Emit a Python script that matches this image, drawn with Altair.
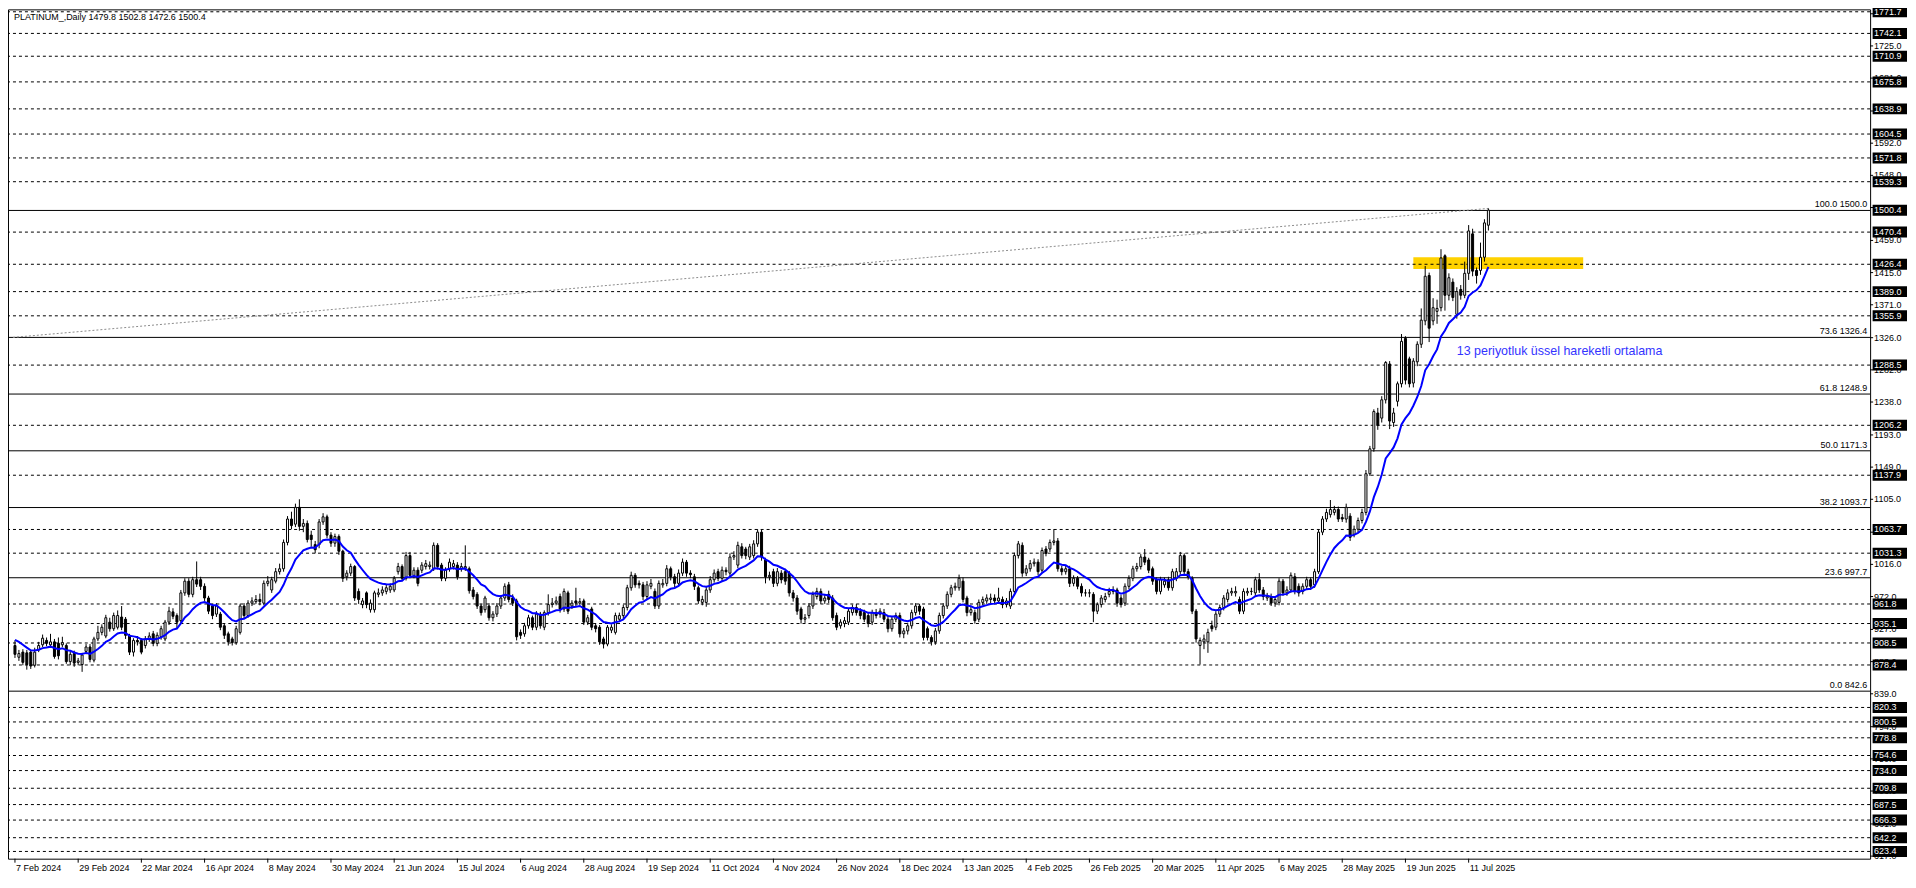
import altair as alt
import pandas as pd

title_text = "PLATINUM_,Daily  1479.8 1502.8 1472.6 1500.4"
ema_label = "13 periyotluk üssel hareketli ortalama"

opens = [
905,889,896,895,896,878,899,906,912,906, 910,908,906,905,883,894,882,879,897,903,
885,914,923,918,937,928,930,944,941,919, 896,912,912,905,914,921,908,917,914,937,
951,946,939,977,993,975,995,995,986,970, 959,948,948,932,921,914,909,923,959,946,
963,965,968,963,990,981,993,1006,1010,1046, 1078,1071,1094,1068,1072,1056,1043,1043,1074,1081,
1056,1045,1054,1034,999,1004,1013,979,961,977, 954,954,975,977,979,981,981,1006,1013,997,
1028,1001,1008,1008,1013,1013,1010,1042,1015,997, 1010,1013,1015,1010,1011,1010,981,975,959,954,
959,943,948,959,970,988,970,966,923,921, 932,943,930,948,930,950,961,963,972,955,
977,959,966,963,966,937,955,932,930,914, 907,926,923,941,946,957,984,1001,990,988,
972,986,979,959,988,990,1010,999,990,1004, 1019,1004,999,984,964,964,981,995,1006,997,
1008,1004,1026,1015,1040,1037,1026,1028,1044,1060, 1022,999,1006,990,1004,1006,1004,977,970,955,
941,946,959,972,979,966,975,970,946,932, 935,937,950,957,952,950,946,937,950,948,
950,941,928,941,946,921,925,932,950,959, 955,928,916,910,925,946,959,975,984,984,
993,970,950,950,941,964,966,968,970,966, 968,961,959,979,1028,1042,1004,1010,1017,1019,
1008,1037,1037,1046,1048,1010,1006,1010,990,997, 986,977,977,975,952,961,968,975,979,981,
970,963,986,997,1010,1013,1026,1022,1010,995, 979,988,995,984,997,1006,1028,1006,997,952,
905,910,910,932,930,948,957,968,977,977, 968,952,977,979,977,995,981,970,972,963,
964,993,977,981,999,986,979,986,995,988, 1006,1060,1078,1084,1087,1091,1080,1078,1082,1057,
1064,1076,1087,1140,1174,1223,1216,1241,1290,1210, 1239,1263,1325,1297,1264,1293,1317,1349,1411,1349,
1362,1367,1438,1384,1402,1358,1392,1384,1414,1468, 1418,1418,1436,1479.8,
]
closes = [
893,894,882,879,877,896,905,915,908,910, 890,891,909,883,893,881,884,892,903,886,
914,923,930,943,928,946,946,930,919,896, 912,910,896,914,918,908,919,928,937,952,
945,937,977,993,975,995,989,986,970,952, 946,959,930,919,910,909,928,959,946,963,
966,968,965,990,993,995,1006,1010,1046,1078, 1069,1094,1068,1072,1050,1050,1036,1074,1081,1056,
1045,1054,1034,997,1004,1013,970,968,966,961, 963,977,977,981,984,986,997,1013,997,1028,
1001,1008,990,1015,1017,1015,1042,1013,997,1008, 1019,1017,999,1013,1013,980,972,959,950,970,
943,948,959,970,986,968,963,917,919,932, 943,930,948,932,950,961,963,966,955,979,
952,963,963,965,937,943,930,928,910,907, 930,930,946,946,957,984,1001,988,988,972,
988,990,959,990,990,1010,999,990,1004,1019, 1004,1002,986,966,968,981,995,1004,997,1008,
1006,1026,1028,1042,1028,1028,1040,1044,1060,1026, 999,1001,990,1006,995,993,977,970,952,941,
943,959,975,979,966,970,968,943,930,937, 939,952,957,950,946,941,935,950,946,952,
941,928,941,946,921,925,932,950,959,952, 916,916,910,925,946,959,975,984,986,997,
968,950,954,939,964,968,970,970,966,970, 961,966,979,1028,1044,1004,1010,1017,1019,1006,
1035,1031,1046,1048,1010,1006,1010,990,997,986, 977,977,977,952,961,970,972,979,981,963,
961,986,997,1010,1013,1026,1019,1008,993,979, 995,993,984,1006,1006,1028,1006,999,952,914,
912,914,923,928,948,957,970,977,979,979, 952,979,979,979,995,981,972,972,963,968,
993,977,981,1001,979,977,986,995,986,1006, 1060,1078,1087,1091,1091,1078,1078,1094,1053,1064,
1076,1087,1140,1174,1225,1206,1241,1292,1212,1223, 1263,1321,1268,1263,1294,1317,1350,1410,1339,1367,
1366,1435,1384,1408,1381,1389,1384,1414,1472,1417, 1411,1436,1483,1500.4,
]
highs = [
912,899,900,899,899,902,910,920,916,921, 914,916,917,908,897,898,888,895,907,907,
917,932,934,947,943,950,953,959,944,921, 915,918,915,918,923,925,923,932,940,958,
956,949,981,997,997,999,1020,999,990,973, 962,963,951,935,924,917,932,962,963,967,
971,974,976,994,1000,999,1011,1017,1050,1082, 1088,1099,1105,1078,1076,1062,1048,1078,1086,1084,
1060,1058,1057,1036,1008,1017,1015,983,970,979, 968,980,983,986,988,990,1000,1018,1016,1033,
1033,1012,1012,1019,1022,1020,1046,1045,1018,1012, 1024,1022,1019,1018,1042,1013,985,978,962,973,
963,952,963,974,990,992,975,969,927,936, 947,946,952,951,953,975,970,972,976,983,
980,967,984,970,969,947,958,935,933,917, 933,934,950,950,961,988,1006,1004,994,992,
993,996,983,994,996,1015,1013,1003,1009,1024, 1022,1008,1003,987,973,985,1000,1009,1010,1013,
1012,1031,1034,1047,1045,1040,1044,1049,1064,1063, 1025,1006,1010,1011,1008,1010,1007,981,974,958,
948,963,979,984,983,974,980,974,950,941, 944,956,961,962,956,954,950,954,955,956,
955,945,945,950,950,929,936,954,963,962, 958,931,919,929,950,963,979,988,991,1002,
998,973,958,954,968,972,975,976,975,984, 972,970,983,1032,1048,1046,1015,1022,1024,1023,
1039,1041,1050,1064,1052,1014,1015,1014,1001,1000, 990,982,982,978,964,974,977,984,986,984,
974,990,1001,1014,1018,1030,1037,1025,1013,998, 999,998,999,1010,1011,1033,1031,1010,1000,955,
916,920,928,939,952,961,974,982,984,986, 972,983,984,984,999,1004,985,977,976,972,
997,996,986,1005,1004,990,990,999,998,1010, 1064,1082,1092,1104,1096,1095,1085,1099,1086,1069,
1080,1092,1145,1178,1228,1230,1246,1294,1294,1230, 1266,1331,1328,1300,1298,1321,1366,1424,1415,1380,
1378,1447,1440,1414,1407,1395,1398,1430,1480,1475, 1422,1456,1488,1502.8,
]
lows = [
888,884,878,872,873,875,896,903,904,902, 887,886,903,880,878,876,878,869,893,882,
882,911,919,915,924,925,927,926,914,892, 890,905,893,901,910,904,904,913,911,933,
941,928,936,973,971,971,985,981,966,948, 941,944,926,914,905,905,906,920,942,943,
959,962,960,960,986,977,990,1002,1006,1042, 1064,1067,1062,1060,1046,1040,1031,1038,1070,1052,
1040,1040,1029,992,994,1000,966,962,956,956, 950,950,971,973,975,977,978,1002,993,994,
997,997,986,1004,1009,1009,1007,1009,993,993, 1006,1009,995,1006,1007,976,968,955,946,950,
939,938,944,955,966,964,959,912,914,917, 928,926,926,928,926,946,957,960,950,951,
948,955,959,960,933,933,926,923,906,901, 904,922,920,937,942,953,980,984,983,967,
968,982,955,955,984,986,994,985,986,1000, 999,997,981,962,960,958,977,991,993,993,
1001,1000,1022,1011,1024,1023,1022,1024,1040,1021, 990,994,985,986,990,988,972,965,947,935,
936,942,955,968,962,962,963,939,926,928, 930,933,946,946,941,937,930,933,942,943,
937,923,924,937,916,915,920,928,946,947, 912,912,905,906,921,942,955,971,980,980,
964,945,946,935,937,960,962,963,962,962, 956,957,955,975,1024,999,1000,1006,1013,1001,
1004,1027,1033,1042,1006,1001,1002,985,986,982, 972,972,971,937,948,957,964,971,975,958,
957,959,982,993,1006,1009,1015,1004,988,975, 975,984,980,980,993,1002,1002,995,948,909,
879,900,895,924,926,944,953,964,973,972, 948,948,973,974,973,977,967,966,959,958,
960,973,973,977,975,972,975,982,981,984, 1003,1056,1074,1080,1083,1074,1074,1073,1048,1053,
1060,1072,1083,1137,1170,1200,1210,1236,1201,1204, 1232,1258,1262,1258,1258,1287,1312,1343,1320,1343,
1345,1362,1363,1377,1376,1352,1378,1380,1405,1410, 1400,1412,1430,1472.6,
]

date_bars = [0, 16, 32, 48, 64, 80, 96, 112, 128, 144, 160, 176, 192, 208, 224,
             240, 256, 272, 288, 304, 320, 336, 352, 368]
date_labels = ["7 Feb 2024", "29 Feb 2024", "22 Mar 2024", "16 Apr 2024", "8 May 2024",
               "30 May 2024", "21 Jun 2024", "15 Jul 2024", "6 Aug 2024", "28 Aug 2024",
               "19 Sep 2024", "11 Oct 2024", "4 Nov 2024", "26 Nov 2024", "18 Dec 2024",
               "13 Jan 2025", "4 Feb 2025", "26 Feb 2025", "20 Mar 2025", "11 Apr 2025",
               "6 May 2025", "28 May 2025", "19 Jun 2025", "11 Jul 2025"]

dashed_levels = [1771.7, 1742.1, 1710.9, 1675.8, 1638.9, 1604.5, 1571.8, 1539.3, 1470.4,
                 1426.4, 1389.0, 1355.9, 1288.5, 1206.2, 1137.9, 1063.7, 1031.3, 961.8,
                 935.1, 908.5, 878.4, 820.3, 800.5, 778.8, 754.6, 734.0, 709.8, 687.5,
                 666.3, 642.2, 623.4]
fib_levels = [1500.0, 1326.4, 1248.9, 1171.3, 1093.7, 997.7, 842.6]
fib_pcts = ["100.0", "73.6", "61.8", "50.0", "38.2", "23.6", "0.0"]
last_price = 1500.4
axis_ticks = [1769.0, 1725.0, 1681.0, 1636.0, 1592.0, 1548.0, 1504.0, 1459.0, 1415.0,
              1371.0, 1326.0, 1282.0, 1238.0, 1193.0, 1149.0, 1105.0, 1060.0, 1016.0,
              972.0, 927.0, 883.0, 839.0, 794.0, 750.0, 706.0, 661.0, 617.0]
zone_bars = [354, 397]
zone_prices = [1420.0, 1436.0]
trend_bars = [-0.5, 373]
trend_prices = [1326.4, 1502.8]
ema_period = 13
ema_start = 916.0
label_bar = 365
label_price = 1308.0

n = len(closes)
assert len(opens) == n and len(highs) == n and len(lows) == n, (len(opens), len(highs), len(lows), n)

ema = []
prev = ema_start
alpha = 2.0 / (ema_period + 1)
for c in closes:
    prev = prev + alpha * (c - prev)
    ema.append(prev)

candles = pd.DataFrame({
    "i": list(range(n)), "o": opens, "c": closes,
    "h": [max(h, o, c) for h, o, c in zip(highs, opens, closes)],
    "l": [min(l, o, c) for l, o, c in zip(lows, opens, closes)],
    "ema": ema,
})

W, H = 1868, 852
FONT = "Liberation Sans"
xs = alt.Scale(domain=[-0.5, 468.37], nice=False, zero=False)
ys = alt.Scale(domain=[613.5, 1775.0], nice=False, zero=False)


def X(f):
    return alt.X(f"{f}:Q", scale=xs, axis=None)


def Y(f):
    return alt.Y(f"{f}:Q", scale=ys, axis=None)


zone_df = pd.DataFrame({"i0": [zone_bars[0]], "i1": [zone_bars[1]],
                        "p0": [zone_prices[0]], "p1": [zone_prices[1]]})
zone = alt.Chart(zone_df).mark_rect(color="#FFD200").encode(
    x=X("i0"), x2="i1", y=Y("p0"), y2="p1")

dash_df = pd.DataFrame({"p": dashed_levels})
dashed = alt.Chart(dash_df).mark_rule(color="black", strokeWidth=1, strokeDash=[3, 3]).encode(y=Y("p"))

fib_df = pd.DataFrame({"p": fib_levels,
                       "t": [f"{a} {b:.1f}" for a, b in zip(fib_pcts, fib_levels)]})
fib = alt.Chart(fib_df).mark_rule(color="black", strokeWidth=1).encode(y=Y("p"))
fib_txt = alt.Chart(fib_df).mark_text(align="right", baseline="bottom", dy=-1,
                                      font=FONT, fontSize=9, color="black").encode(
    x=alt.value(W - 3), y=Y("p"), text="t:N")

trend_df = pd.DataFrame({"i": trend_bars, "p": trend_prices})
trend = alt.Chart(trend_df).mark_line(color="#8c8c8c", strokeWidth=1, strokeDash=[2, 2]).encode(
    x=X("i"), y=Y("p"))

wicks = alt.Chart(candles).mark_rule(color="black", strokeWidth=1).encode(
    x=X("i"), y=Y("l"), y2="h")
bodies = alt.Chart(candles).mark_bar(size=2, stroke="black", strokeWidth=1, orient="vertical").encode(
    x=X("i"), y=Y("o"), y2="c",
    fill=alt.condition("datum.c >= datum.o", alt.value("white"), alt.value("black")))

ema_line = alt.Chart(candles).mark_line(color="#0000FF", strokeWidth=2).encode(
    x=X("i"), y=Y("ema"))

lab_df = pd.DataFrame({"i": [label_bar], "p": [label_price], "t": [ema_label]})
ema_txt = alt.Chart(lab_df).mark_text(align="left", baseline="middle", font=FONT,
                                      fontSize=12.5, color="#3333FF").encode(
    x=X("i"), y=Y("p"), text="t:N")

title_df = pd.DataFrame({"t": [title_text]})
title = alt.Chart(title_df).mark_text(align="left", baseline="middle", font=FONT,
                                      fontSize=9, color="black").encode(
    x=alt.value(6), y=alt.value(8), text="t:N")

tick_df = pd.DataFrame({"p": axis_ticks, "t": [f"{v:.1f}" for v in axis_ticks]})
ytick_marks = alt.Chart(tick_df).mark_rule(color="black").encode(
    x=alt.value(W), x2=alt.value(W + 3), y=Y("p"))
ytick_txt = alt.Chart(tick_df).mark_text(align="left", baseline="middle", font=FONT,
                                         fontSize=9, color="black").encode(
    x=alt.value(W + 4), y=Y("p"), text="t:N")

box_vals = dashed_levels + [last_price]
box_df = pd.DataFrame({"p": box_vals, "t": [f"{v:.1f}" for v in box_vals]})
box_df["hi"] = box_df["p"] + 7.5
box_df["lo"] = box_df["p"] - 7.5
boxes = alt.Chart(box_df).mark_rect(color="black").encode(
    x=alt.value(W + 2.5), x2=alt.value(W + 37), y=Y("hi"), y2="lo")
box_txt = alt.Chart(box_df).mark_text(align="left", baseline="middle", font=FONT,
                                      fontSize=9, color="white").encode(
    x=alt.value(W + 4), y=Y("p"), text="t:N")

date_df = pd.DataFrame({"i": date_bars, "t": date_labels})
xtick_marks = alt.Chart(date_df).mark_rule(color="black").encode(
    x=X("i"), y=alt.value(H), y2=alt.value(H + 4))
xtick_txt = alt.Chart(date_df).mark_text(align="left", baseline="middle", dx=1, font=FONT,
                                         fontSize=9, color="black").encode(
    x=X("i"), y=alt.value(H + 9), text="t:N")

chart = alt.layer(
    zone, dashed, fib, fib_txt, trend, wicks, bodies, ema_line, ema_txt, title,
    ytick_marks, ytick_txt, boxes, box_txt, xtick_marks, xtick_txt,
).properties(
    width=W, height=H,
    padding={"left": 0, "top": 0, "right": 38, "bottom": 14},
    autosize=alt.AutoSizeParams(type="none"),
    background="white",
).configure_view(stroke="black", strokeWidth=1)

chart.save("out.html", embed_options={"renderer": "svg", "actions": False})
